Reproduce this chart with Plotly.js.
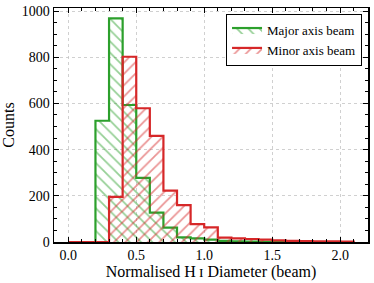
<!DOCTYPE html>
<html>
<head>
<meta charset="utf-8">
<script src="https://cdn.plot.ly/plotly-3.0.1.min.js"></script>
<style>html,body{margin:0;padding:0;background:#fff;}#chart{width:374px;height:283px;}</style>
</head>
<body>
<div id="chart"></div>
<script>
// Bin edges (normalised HI diameter, beam units)
const binEdges = [0.0,0.1,0.2,0.3,0.4,0.5,0.6,0.7,0.8,0.9,1.0,1.1,1.2,1.3,1.4,1.5,1.6,1.7,1.8,1.9,2.0,2.1];
// Counts per bin
const majorCounts = [0,0,525,968,593,278,127,62,20,16,10,5,3,2,1,1,0,0,0,0,0];
const minorCounts = [0,0,0,195,802,579,459,222,160,77,63,19,16,13,10,7,5,4,3,3,2];
const seriesNames = ["Major axis beam","Minor axis beam"];
const xTickVals = [0.0,0.5,1.0,1.5,2.0];
const xTickText = ["0.0","0.5","1.0","1.5","2.0"];
const yTickVals = [0,200,400,600,800,1000];

const GREEN = "#2ca02c", RED = "#d62728";
const FONT = "Liberation Serif, DejaVu Serif, serif";

function stepTrace(counts, name, color, shape){
  return {
    type:"scatter", mode:"lines", name:name,
    x: binEdges.slice(),
    y: counts.concat([0]),
    line:{shape:"hv", color:color, width:2.2},
    fill:"tozeroy",
    fillcolor:"rgba(0,0,0,0)",
    fillpattern:{shape:shape, fgcolor:color, bgcolor:"rgba(0,0,0,0)", size:8, solidity:0.22, fillmode:"overlay"},
    hoverinfo:"skip"
  };
}

const data = [
  stepTrace(majorCounts, seriesNames[0], GREEN, "\\"),
  stepTrace(minorCounts, seriesNames[1], RED, "/")
];

const axisCommon = {
  showline:true, linecolor:"black", linewidth:1.5, mirror:"allticks",
  ticks:"inside", ticklen:5, tickwidth:1, tickcolor:"black",
  showgrid:true, gridcolor:"#c4c4c4", griddash:"dot", gridwidth:0.8,
  zeroline:false,
  tickfont:{family:FONT, size:14, color:"black"}
};

const layout = {
  width:374, height:283,
  margin:{l:54, r:6, t:8, b:41},
  paper_bgcolor:"white", plot_bgcolor:"white",
  font:{family:FONT, color:"black"},
  showlegend:true,
  legend:{x:0.981, y:0.974, xanchor:"right", yanchor:"top",
    bordercolor:"black", borderwidth:1, bgcolor:"white",
    font:{family:FONT, size:13, color:"black"}, tracegroupgap:0},
  xaxis:Object.assign({}, axisCommon, {
    range:[-0.105, 2.205], tickmode:"array", tickvals:xTickVals, ticktext:xTickText,
    minor:{dtick:0.1, tick0:0, ticks:"inside", ticklen:3, tickcolor:"black", showgrid:false},
    title:{text:"Normalised H\u2009\u026A Diameter (beam)", font:{family:FONT, size:16, color:"black"}, standoff:3}
  }),
  yaxis:Object.assign({}, axisCommon, {
    range:[0, 1013], tickmode:"array", tickvals:yTickVals,
    minor:{dtick:50, tick0:0, ticks:"inside", ticklen:3, tickcolor:"black", showgrid:false},
    title:{text:"Counts", font:{family:FONT, size:16, color:"black"}, standoff:5}
  })
};

Plotly.newPlot("chart", data, layout, {displayModeBar:false, staticPlot:true});
</script>
</body>
</html>
